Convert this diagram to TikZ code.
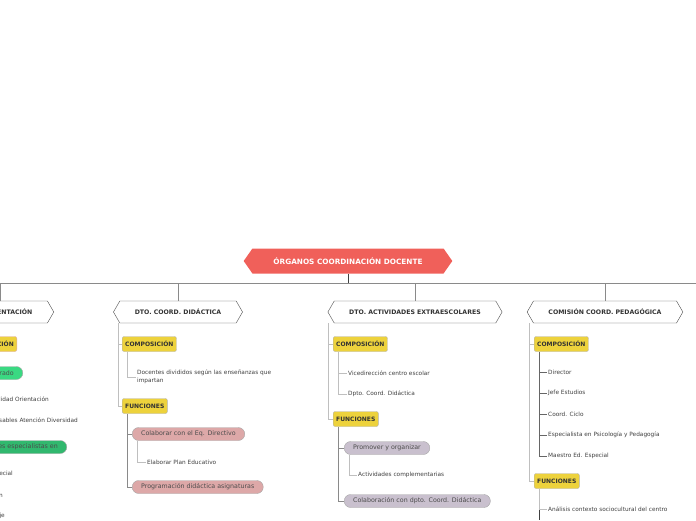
\documentclass[tikz,border=0pt]{standalone}
\usepackage{fontspec}
\setmainfont{DejaVu Sans}
\usetikzlibrary{shapes.symbols}
\definecolor{titlered}{HTML}{F0605A}
\definecolor{boxyellow}{HTML}{EDD23C}
\definecolor{boxpink}{HTML}{DDA8A8}
\definecolor{boxlilac}{HTML}{C9C0CE}
\definecolor{boxgreen}{HTML}{3AD982}
\definecolor{linegray}{HTML}{8A8A8A}
\begin{document}
\begin{tikzpicture}[x=1pt,y=-1pt]
\tikzset{title/.style = {shape=signal,signal to=west and east,signal pointer angle=110,fill=titlered,text=white,font=\bfseries\fontsize{7.3}{8}\selectfont,minimum height=25pt,inner xsep=21pt}}
\tikzset{head/.style = {shape=signal,signal to=west and east,signal pointer angle=120,draw=black!70,fill=white,text=black!80,font=\bfseries\fontsize{6.2}{7}\selectfont,minimum height=22pt,inner xsep=15pt}}
\tikzset{group/.style = {draw=black!30,fill=boxyellow,text=black!80,rounded corners=2pt,font=\bfseries\fontsize{6}{6}\selectfont,minimum height=15pt,inner xsep=3pt}}
\tikzset{pill/.style = {draw=black!35,text=black!70,rounded corners=6.5pt,font=\fontsize{6.3}{7}\selectfont,minimum height=13pt,inner xsep=9pt}}
\tikzset{leaf/.style = {anchor=west,font=\fontsize{5.8}{8}\selectfont,text=black!75,inner sep=1pt,align=left}}
\tikzset{edge/.style = {draw=linegray,line width=0.8pt}}
\tikzset{thin/.style = {draw=black!25,line width=0.6pt}}
\useasboundingbox (0,0) rectangle (696,520);
\clip (0,0) rectangle (696,520);
% vertices
\node[title] (t) at (348,261) {ÓRGANOS COORDINACIÓN DOCENTE};
\node[head,anchor=east] (h1) at (54,312) {DTO. ORIENTACIÓN};
\node[head] (h2) at (178,312) {DTO. COORD. DIDÁCTICA};
\node[head] (h3) at (415,312) {DTO. ACTIVIDADES EXTRAESCOLARES};
\node[head] (h4) at (605,312) {COMISIÓN COORD. PEDAGÓGICA};

% orientacion
\node[group,anchor=east,fill=boxyellow,draw=boxpink] (c1) at (17,344) {COMPOSICIÓN};
\node[pill,anchor=east,fill=boxgreen] (g1) at (23,373) {Profesorado};
\node[leaf,anchor=east] (o1) at (50,400) {Especialidad Orientación};
\node[leaf,anchor=east] (o2) at (79,421) {Responsables Atención Diversidad};
\node[pill,anchor=east,fill=boxgreen!85!black] (g2) at (67,447) {Profesores especialistas en};
\node[leaf,anchor=east] (o3) at (14,474) {Educación Especial};
\node[leaf,anchor=east] (o4) at (4,495) {Audición};
\node[leaf,anchor=east] (o5) at (6,516) {Lenguaje};

% coord. didactica
\node[group,anchor=west] (c2) at (122,344) {COMPOSICIÓN};
\node[leaf,text width=160pt] (d1) at (136,377) {Docentes divididos según las enseñanzas que\\impartan};
\node[group,anchor=west] (f2) at (122,406) {FUNCIONES};
\node[pill,anchor=west,fill=boxpink] (p1) at (132,434) {Colaborar con el Eq. Directivo};
\node[leaf] (d2) at (146,462) {Elaborar Plan Educativo};
\node[pill,anchor=west,fill=boxpink] (p2) at (132,487) {Programación didáctica asignaturas};

% extraescolares
\node[group,anchor=west] (c3) at (333,344) {COMPOSICIÓN};
\node[leaf] (e1) at (347,373) {Vicedirección centro escolar};
\node[leaf] (e2) at (347,394) {Dpto. Coord. Didáctica};
\node[group,anchor=west] (f3) at (333,419) {FUNCIONES};
\node[pill,anchor=west,fill=boxlilac] (q1) at (344,448) {Promover y organizar};
\node[leaf] (e3) at (357,475) {Actividades complementarias};
\node[pill,anchor=west,fill=boxlilac] (q2) at (344,501) {Colaboración con dpto. Coord. Didáctica};

% pedagogica
\node[group,anchor=west] (c4) at (534,344) {COMPOSICIÓN};
\node[leaf] (k1) at (547,372) {Director};
\node[leaf] (k2) at (547,393) {Jefe Estudios};
\node[leaf] (k3) at (547,414) {Coord. Ciclo};
\node[leaf] (k4) at (547,435) {Especialista en Psicología y Pedagogía};
\node[leaf] (k5) at (547,456) {Maestro Ed. Especial};
\node[group,anchor=west] (f4) at (534,481) {FUNCIONES};
\node[leaf] (k6) at (547,509) {Análisis contexto sociocultural del centro};

% edges
\draw[edge,draw=black!75] (t.south) -- (348,283);
\draw[edge] (0,283) -- (696,283);
\foreach \h/\x in {h1/0,h2/178,h3/415,h4/605}
  \draw[edge] (\x,283) -- (\h.north -| \x,0);
\draw[thin] (118,323) |- (c2.west);
\draw[thin] (118,323) |- (f2.west);
\draw[thin] (127,352) |- (d1.west);
\draw[edge] (127,414) |- (p1.west);
\draw[edge] (127,414) |- (p2.west);
\draw[thin] (137,441) |- (d2.west);
\draw[thin] (328,323) |- (c3.west);
\draw[thin] (328,323) |- (f3.west);
\draw[thin] (338,352) |- (e1.west);
\draw[thin] (338,352) |- (e2.west);
\draw[edge] (338,427) |- (q1.west);
\draw[edge] (338,427) |- (q2.west);
\draw[thin] (349,455) |- (e3.west);
\draw[thin] (529,323) |- (c4.west);
\draw[thin] (529,323) |- (f4.west);
\foreach \k in {k1,k2,k3,k4,k5}
  \draw[edge,draw=black!60] (539,352) |- (\k.west);
\draw[edge,draw=black!75] (539,489) -- (539,520);
\draw[thin] (539,489) |- (k6.west);
\end{tikzpicture}
\end{document}
